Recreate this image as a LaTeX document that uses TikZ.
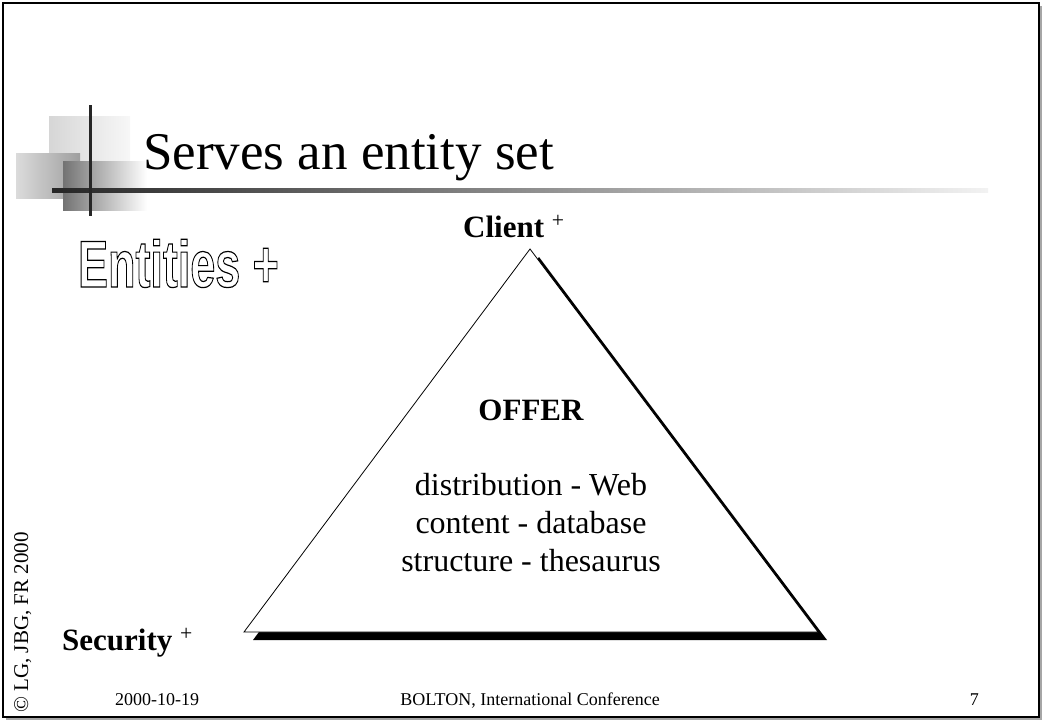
\documentclass[tikz,border=0pt]{standalone}
\usepackage{fontspec}
\setmainfont{Liberation Serif}
\newfontfamily\outlinefont{Liberation Sans}
\usetikzlibrary{positioning}
\newcommand{\hollow}[1]{\special{pdf:literal direct 1 Tr 1.2 w}#1\special{pdf:literal direct 0 Tr}}

\begin{document}
\begin{tikzpicture}
[
x=1pt, y=-1pt,
frame/.style={draw=black, line width=1.3pt},
logo_bar/.style={draw=black!85, line width=3pt},
title/.style={anchor=base west, inner sep=0pt, font=\fontsize{53}{58}\selectfont},
entities/.style={anchor=base west, inner sep=0pt, xscale=0.68, font=\outlinefont\bfseries\fontsize{66}{70}\selectfont},
label/.style={inner sep=0pt, font=\fontsize{31}{36}\selectfont\bfseries},
offer_text/.style={anchor=base, inner sep=0pt, font=\fontsize{32}{36}\selectfont},
footer/.style={inner sep=0pt, font=\fontsize{18}{20}\selectfont}
]
\useasboundingbox (0,0) rectangle (1042,720);

%Frame
\draw[frame] (3,3) rectangle (1039,717);
\draw[black!35, line width=1.5pt] (1041,6) -- (1041,719) -- (6,719);

%Logo
\shade[left color=black!16, right color=black!3] (49,116) rectangle (130,162);
\shade[left color=black!14, right color=black!38] (16,153) rectangle (80,198);
\shade[left color=black!55, right color=white] (63,161) rectangle (147,210);
\shade[left color=black!85, right color=black!5] (52,188) rectangle (988,192);
\draw[logo_bar] (90,105) -- (90,216);

%Triangle
\coordinate (apex)  at (530,249);
\coordinate (left)  at (244,632);
\coordinate (right) at (818,632);
\fill[black] ([shift={(9,8)}]apex) -- ([shift={(9,8)}]left) -- ([shift={(9,8)}]right) -- cycle;
\draw[fill=white, line width=0.8pt] (apex) -- (left) -- (right) -- cycle;

%Nodes
\node[title]                    (title)     at (143,169)    {Serves an entity set};
\node[entities]                 (ent)       at (78,287)     {\hollow{Entities +}};
\node[label, anchor=base west]  (client)    at (463,237)    {Client \textsuperscript{\normalfont +}};
\node[label, anchor=base west]  (security)  at (62,650)     {Security \textsuperscript{\normalfont +}};
\node[label, anchor=base]       (offer)     at (531,420)    {OFFER};
\node[offer_text]               (distrib)   at (531,495)    {distribution - Web};
\node[offer_text]               (content)   at ([yshift=-38pt]distrib.base)  {content - database};
\node[offer_text]               (struct)    at ([yshift=-38pt]content.base)  {structure - thesaurus};
\node[footer, rotate=90, anchor=base west, font=\fontsize{21}{24}\selectfont] (copy) at (28,713) {© LG, JBG, FR 2000};
\node[footer, anchor=base west] (date)      at (115,705)    {2000-10-19};
\node[footer, anchor=base]      (conf)      at (530,705)    {BOLTON, International Conference};
\node[footer, anchor=base east] (page)      at (979,705)    {7};
\end{tikzpicture}
\end{document}
